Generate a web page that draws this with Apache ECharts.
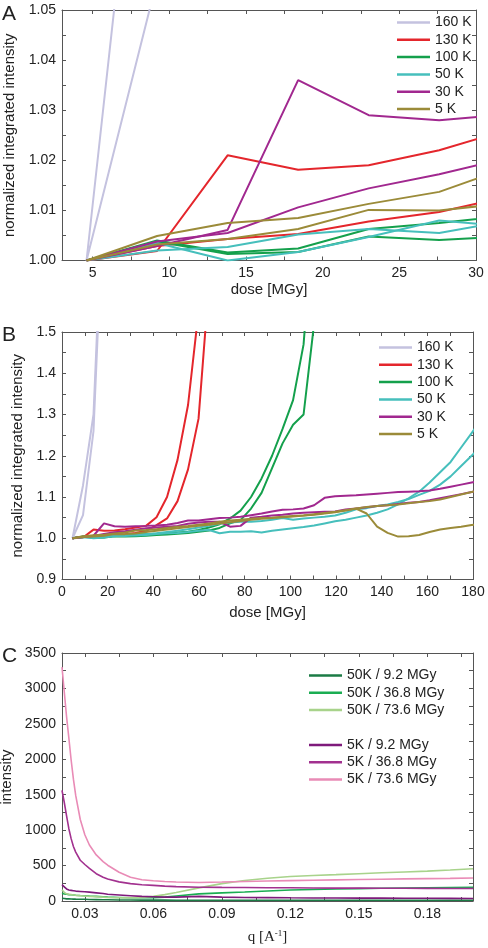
<!DOCTYPE html>
<html><head><meta charset="utf-8">
<script src="https://cdn.jsdelivr.net/npm/echarts@6/dist/echarts.min.js"></script>
<style>html,body{margin:0;padding:0;background:#fff}#c{width:488px;height:948px}</style>
</head><body><div id="c"></div>
<script>
// ---------- DATA ----------
const doses = [4.6, 9.2, 13.8, 18.4, 23, 27.6, 32.2, 36.8, 41.4, 46, 50.6, 55.2, 59.8, 64.4, 69, 73.6, 78.2, 82.8, 87.4, 92,
  96.6, 101.2, 105.8, 110.4, 115, 119.6, 124.2, 128.8, 133.4, 138, 142.6, 147.2, 151.8, 156.4, 161, 165.6, 170.2, 174.8, 179.4, 184];

const k160a = [1.000, 1.128, 1.30, 1.90];
const k160b = [1.000, 1.056, 1.26, 1.85];
const k130a = [1.000, 1.0019, 1.0210, 1.0181, 1.0190, 1.0220, 1.0262, 1.030, 1.051, 1.100, 1.190, 1.323, 1.550, 1.90];
const k130b = [1.000, 1.0029, 1.0043, 1.0053, 1.0078, 1.0097, 1.0128, 1.018, 1.032, 1.048, 1.090, 1.167, 1.290, 1.620];
const k100a = [1.000, 1.0040, 1.0016, 1.0024, 1.0063, 1.0075, 1.0090, 1.010, 1.011, 1.012, 1.014, 1.016, 1.020, 1.026, 1.034,
  1.048, 1.067, 1.100, 1.145, 1.200, 1.265, 1.335, 1.470, 1.800];
const k100b = [1.000, 1.0038, 1.0013, 1.0017, 1.0048, 1.0041, 1.0048, 1.006, 1.008, 1.009, 1.011, 1.013, 1.016, 1.019, 1.025,
  1.036, 1.044, 1.072, 1.110, 1.170, 1.230, 1.275, 1.300, 1.520, 1.900];
const k50a = [1.000, 1.0035, 1.0000, 1.0017, 1.0047, 1.0080, 1.0068, 1.008, 1.010, 1.012, 1.013, 1.015, 1.018, 1.020, 1.012,
  1.016, 1.016, 1.017, 1.014, 1.018, 1.021, 1.024, 1.027, 1.031, 1.036, 1.041, 1.045, 1.050, 1.055, 1.062, 1.070, 1.082,
  1.097, 1.113, 1.135, 1.160, 1.185, 1.220, 1.255, 1.290];
const k50b = [1.000, 1.0020, 1.0027, 1.0052, 1.0063, 1.0055, 1.0080, 1.010, 1.012, 1.015, 1.018, 1.022, 1.026, 1.030, 1.035,
  1.038, 1.040, 1.040, 1.042, 1.045, 1.049, 1.045, 1.048, 1.050, 1.052, 1.055, 1.062, 1.070, 1.073, 1.078, 1.082, 1.088,
  1.095, 1.105, 1.115, 1.130, 1.150, 1.175, 1.200, 1.225];
const k30a = [1.000, 1.0029, 1.0061, 1.0360, 1.0290, 1.0280, 1.0292, 1.030, 1.031, 1.033, 1.037, 1.043, 1.043, 1.046, 1.049,
  1.050, 1.052, 1.056, 1.060, 1.065, 1.069, 1.070, 1.072, 1.080, 1.098, 1.102, 1.103, 1.104, 1.106, 1.108, 1.110, 1.112,
  1.113, 1.114, 1.116, 1.120, 1.125, 1.130, 1.135, 1.140];
const k30b = [1.000, 1.0038, 1.0055, 1.0106, 1.0144, 1.0172, 1.0206, 1.024, 1.026, 1.028, 1.030, 1.035, 1.038, 1.040, 1.040,
  1.028, 1.030, 1.050, 1.052, 1.055, 1.057, 1.060, 1.062, 1.063, 1.064, 1.065, 1.070, 1.072, 1.075, 1.078, 1.080, 1.083,
  1.086, 1.088, 1.092, 1.097, 1.102, 1.107, 1.112, 1.117];
const k5a = [1.000, 1.0049, 1.0075, 1.0085, 1.0113, 1.0137, 1.0187, 1.020, 1.022, 1.025, 1.028, 1.030, 1.033, 1.036, 1.040,
  1.043, 1.045, 1.047, 1.049, 1.050, 1.052, 1.054, 1.055, 1.057, 1.060, 1.063, 1.067, 1.072, 1.076, 1.078, 1.080, 1.082,
  1.085, 1.088, 1.090, 1.094, 1.100, 1.106, 1.112, 1.118];
const k5b = [1.000, 1.0032, 1.0043, 1.0063, 1.0101, 1.0100, 1.0115, 1.015, 1.018, 1.021, 1.024, 1.027, 1.030, 1.033, 1.036,
  1.039, 1.042, 1.045, 1.047, 1.049, 1.051, 1.053, 1.055, 1.058, 1.061, 1.064, 1.068, 1.072, 1.060, 1.028, 1.013, 1.004,
  1.005, 1.008, 1.015, 1.021, 1.025, 1.028, 1.032, 1.035];

const qValues = [0.020, 0.021, 0.022, 0.023, 0.024, 0.025, 0.026, 0.028, 0.030, 0.032, 0.035, 0.038, 0.040, 0.045, 0.050,
  0.055, 0.060, 0.065, 0.070, 0.080, 0.090, 0.100, 0.110, 0.120, 0.130, 0.140, 0.150, 0.160, 0.170, 0.180, 0.190, 0.200];
const i50k9 = [40, 35, 30, 30, 28, 27, 26, 25, 24, 22, 20, 18, 17, 15, 14, 13, 12, 12, 11, 11, 10, 10, 10, 10, 10, 10, 10, 10, 10, 10, 10, 10];
const i50k37 = [110, 100, 95, 90, 88, 85, 82, 78, 75, 70, 65, 60, 55, 50, 45, 45, 48, 55, 70, 100, 115, 128, 142, 155, 163, 170, 175, 180, 184, 188, 191, 194];
const i50k74 = [160, 120, 100, 95, 90, 85, 80, 75, 70, 65, 60, 55, 50, 45, 45, 50, 65, 90, 120, 185, 245, 290, 320, 345, 360, 372, 385, 398, 410, 422, 437, 455];
const i5k9 = [230, 200, 170, 155, 150, 145, 140, 135, 130, 125, 115, 105, 95, 85, 75, 65, 60, 55, 55, 65, 55, 50, 48, 45, 43, 42, 41, 40, 39, 38, 37, 36];
const i5k37 = [1560, 1390, 1200, 1020, 880, 770, 690, 575, 515, 460, 385, 335, 310, 270, 245, 230, 220, 210, 203, 195, 192, 190, 188, 186, 184, 182, 181, 180, 179, 178, 177, 176];
const i5k74 = [3300, 2950, 2600, 2300, 1990, 1720, 1490, 1150, 935, 790, 650, 555, 505, 405, 335, 300, 285, 275, 268, 262, 268, 275, 282, 288, 293, 298, 303, 308, 312, 316, 320, 325];

const tempNames = ['160 K', '130 K', '100 K', '50 K', '30 K', '5 K'];
const tempColors = ['#c4c2df', '#e4262c', '#14a04c', '#46bfbc', '#a1288f', '#9b8b39'];
const qNames = ['50K / 9.2 MGy', '50K / 36.8 MGy', '50K / 73.6 MGy', '5K / 9.2 MGy', '5K / 36.8 MGy', '5K / 73.6 MGy'];
const qColors = ['#1b7b45', '#1aad52', '#a8d38b', '#7e1a7b', '#a2318f', '#e98bb6'];

const aXLabels = [5, 10, 15, 20, 25, 30];
const aYLabels = [1.00, 1.01, 1.02, 1.03, 1.04, 1.05];
const bXLabels = [0, 20, 40, 60, 80, 100, 120, 140, 160, 180];
const bYLabels = [0.9, 1.0, 1.1, 1.2, 1.3, 1.4, 1.5];
const cXLabels = [0.03, 0.06, 0.09, 0.12, 0.15, 0.18];
const cYLabels = [0, 500, 1000, 1500, 2000, 2500, 3000, 3500];

// ---------- BUILD ----------
const FONT = 'Liberation Sans, Arial, Helvetica, sans-serif';
const AX = '#555';
function withMinor(vals, step, lo, hi) {
  const out = [];
  vals.forEach(v => { out.push(v, v + step, v - step); });
  return Array.from(new Set(out.map(v => +v.toFixed(6)))).filter(v => v >= lo - 1e-9 && v <= hi + 1e-9).sort((a, b) => a - b);
}
function axis(pos, gridIndex, min, max, labels, ticks, fmt, extra) {
  const main = (pos === 'bottom' || pos === 'left');
  return Object.assign({
    type: 'value', position: pos, gridIndex, min, max,
    axisLine: { show: true, onZero: false, lineStyle: { color: AX, width: 1 } },
    axisTick: { show: true, inside: true, length: 4, customValues: ticks, lineStyle: { color: AX, width: 1 } },
    axisLabel: main ? { show: true, customValues: labels, formatter: fmt, color: '#222', fontSize: 14, fontFamily: FONT, margin: 6 } : { show: false },
    splitLine: { show: false }
  }, extra || {});
}
const pair = (xs, ys) => ys.map((v, i) => [xs[i], v]);
const nameStyle = { fontSize: 15, color: '#222', fontFamily: FONT };

const xAxis = [
  axis('bottom', 0, 3, 30, aXLabels, withMinor(aXLabels, 2.5, 3, 30), v => String(v),
    { name: 'dose [MGy]', nameLocation: 'middle', nameGap: 22, nameTextStyle: nameStyle }),
  axis('top', 0, 3, 30, aXLabels, withMinor(aXLabels, 2.5, 3, 30)),
  axis('bottom', 1, 0, 180, bXLabels, withMinor(bXLabels, 10, 0, 180), v => String(v),
    { name: 'dose [MGy]', nameLocation: 'middle', nameGap: 26, nameTextStyle: nameStyle }),
  axis('top', 1, 0, 180, bXLabels, withMinor(bXLabels, 10, 0, 180)),
  axis('bottom', 2, 0.02, 0.2, cXLabels, withMinor(cXLabels, 0.015, 0.02, 0.2), v => v.toFixed(2),
    { name: '{a|q [A}{s|-1}{a|]}', nameLocation: 'middle', nameGap: 28,
      nameTextStyle: { rich: { a: { fontSize: 15, color: '#222', fontFamily: 'Liberation Serif, Times New Roman, serif' },
        s: { fontSize: 9, color: '#222', fontFamily: 'Liberation Serif, serif', padding: [0, 0, 8, 0] } } } }),
  axis('top', 2, 0.02, 0.2, cXLabels, withMinor(cXLabels, 0.015, 0.02, 0.2))
];
const yAxis = [
  axis('left', 0, 1.0, 1.05, aYLabels, withMinor(aYLabels, 0.005, 1.0, 1.05), v => v.toFixed(2),
    { name: 'normalized integrated intensity', nameLocation: 'middle', nameGap: 45, nameTextStyle: nameStyle }),
  axis('right', 0, 1.0, 1.05, aYLabels, withMinor(aYLabels, 0.005, 1.0, 1.05)),
  axis('left', 1, 0.9, 1.5, bYLabels, withMinor(bYLabels, 0.05, 0.9, 1.5), v => v.toFixed(1),
    { name: 'normalized integrated intensity', nameLocation: 'middle', nameGap: 37, nameTextStyle: nameStyle }),
  axis('right', 1, 0.9, 1.5, bYLabels, withMinor(bYLabels, 0.05, 0.9, 1.5)),
  axis('left', 2, 0, 3500, cYLabels, withMinor(cYLabels, 250, 0, 3500), v => String(v),
    { name: 'intensity', nameLocation: 'middle', nameGap: 45, nameTextStyle: nameStyle }),
  axis('right', 2, 0, 3500, cYLabels, withMinor(cYLabels, 250, 0, 3500))
];

const tempSets = [[k160a, k160b], [k130a, k130b], [k100a, k100b], [k50a, k50b], [k30a, k30b], [k5a, k5b]];
const series = [];
[0, 2].forEach(xi => {
  tempSets.forEach((set, t) => {
    set.forEach(arr => {
      series.push({
        type: 'line', name: tempNames[t], xAxisIndex: xi, yAxisIndex: xi,
        data: pair(doses, arr), symbol: 'none', clip: true, animation: false,
        lineStyle: { color: tempColors[t], width: 2 }, itemStyle: { color: tempColors[t] }
      });
    });
  });
});
[i50k9, i50k37, i50k74, i5k9, i5k37, i5k74].forEach((arr, k) => {
  series.push({
    type: 'line', name: qNames[k], xAxisIndex: 4, yAxisIndex: 4,
    data: pair(qValues, arr), symbol: 'none', clip: true, animation: false,
    lineStyle: { color: qColors[k], width: 1.6 }, itemStyle: { color: qColors[k] }
  });
});

const legendBase = { orient: 'vertical', icon: 'rect', itemWidth: 33, itemHeight: 2.5, itemGap: 3.3, padding: 0, selectedMode: false,
  textStyle: { fontSize: 14, color: '#222', fontFamily: FONT, lineHeight: 14 } };

const gridBase = { containLabel: false, outerBoundsMode: 'none' };
const option = {
  animation: false,
  backgroundColor: '#fff',
  grid: [
    Object.assign({ left: 62, top: 10, width: 414, height: 250.5 }, gridBase),
    Object.assign({ left: 62, top: 332, width: 411, height: 247.5 }, gridBase),
    Object.assign({ left: 62, top: 653, width: 411, height: 248 }, gridBase)
  ],
  xAxis, yAxis, series,
  legend: [
    Object.assign({}, legendBase, { data: tempNames, left: 397, top: 15.5 }),
    Object.assign({}, legendBase, { data: tempNames, left: 379, top: 340.5 }),
    Object.assign({}, legendBase, { data: qNames.slice(0, 3), left: 309, top: 668.5 }),
    Object.assign({}, legendBase, { data: qNames.slice(3), left: 309, top: 738 })
  ],
  graphic: [
    { type: 'text', left: 2, top: 4, style: { text: 'A', font: '21px ' + FONT, fill: '#222' } },
    { type: 'text', left: 2, top: 325, style: { text: 'B', font: '21px ' + FONT, fill: '#222' } },
    { type: 'text', left: 2, top: 646, style: { text: 'C', font: '21px ' + FONT, fill: '#222' } }
  ]
};
const chart = echarts.init(document.getElementById('c'), null, { renderer: 'canvas' });
chart.setOption(option);
</script>
</body></html>
